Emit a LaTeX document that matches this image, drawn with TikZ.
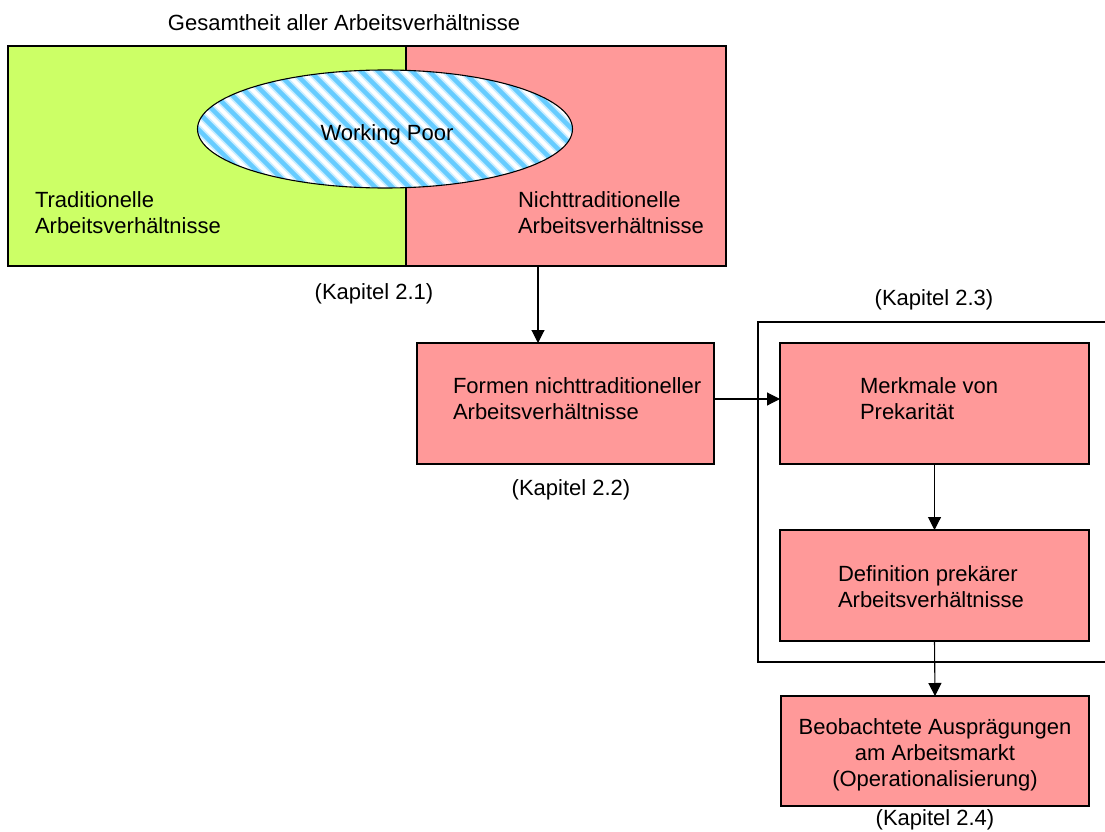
\documentclass[tikz,border=0pt]{standalone}
\usepackage{fontspec}
\setmainfont{Liberation Sans}
\usetikzlibrary{arrows.meta,shapes.geometric}
\definecolor{grn}{HTML}{CCFF66}
\definecolor{pnk}{HTML}{FF9999}
\definecolor{strp}{HTML}{66CCFF}
\newcommand{\ml}[2][l]{\begin{tabular}[t]{@{}#1@{}}#2\end{tabular}}
\begin{document}
\begin{tikzpicture}[x=1pt,y=-1pt,
  every node/.style={inner sep=0pt, outer sep=0pt, font=\fontsize{22}{26}\selectfont},
  box/.style={draw=black, line width=1.1pt, anchor=north west, rectangle},
  pinkbox/.style={box, fill=pnk},
  lbl/.style={anchor=base},
  lblw/.style={anchor=base west},
  arr/.style={draw=black, line width=1.1pt, -{Triangle[length=13pt,width=13pt]}},
  stripes/.style={path picture={
      \foreach \i in {-28,...,28}{
        \draw[strp!35, line width=8pt] ([xshift=\i*17pt-90pt, yshift=90pt]path picture bounding box.center) -- ++(180pt,-180pt);
        \draw[strp, line width=4.5pt] ([xshift=\i*17pt-90pt, yshift=90pt]path picture bounding box.center) -- ++(180pt,-180pt);
      }}}]
\useasboundingbox (0,0) rectangle (1105,832);
\fill[white] (0,0) rectangle (1105,832);

% top region
\node[box, fill=grn, minimum width=398, minimum height=220] (trad) at (8,46) {};
\node[pinkbox, minimum width=320, minimum height=220] (nicht) at (406,46) {};
\node[draw=black, line width=1.1pt, ellipse, fill=white, stripes, minimum width=375, minimum height=118] (wp) at (385,129) {};

\node[lbl] (titel) at (344,30.5) {Gesamtheit aller Arbeitsverhältnisse};
\node[lbl] (wpt) at (387,140.5) {Working Poor};
\node[lblw] (tradt) at (35,207) {\ml{Traditionelle\\Arbeitsverhältnisse}};
\node[lblw] (nichtt) at (518,207) {\ml{Nichttraditionelle\\Arbeitsverhältnisse}};
\node[lbl] (k21) at (374,299) {(Kapitel 2.1)};

% Formen
\node[pinkbox, minimum width=297, minimum height=121] (formen) at (417,343) {};
\node[lblw] (formt) at (453,393) {\ml{Formen nichttraditioneller\\Arbeitsverhältnisse}};
\node[lbl] (k22) at (571,495) {(Kapitel 2.2)};

% Kapitel 2.3 frame
\node[box, minimum width=360, minimum height=340] (frame) at (758,322) {};
\node[lbl] (k23) at (934,305) {(Kapitel 2.3)};

\node[pinkbox, minimum width=309, minimum height=121] (merk) at (780,343) {};
\node[lblw] (merkt) at (860,393) {\ml{Merkmale von\\Prekarität}};

\node[pinkbox, minimum width=309, minimum height=111] (def) at (780,530) {};
\node[lblw] (deft) at (838,581) {\ml{Definition prekärer\\Arbeitsverhältnisse}};

\node[pinkbox, minimum width=308, minimum height=110] (beob) at (781,696) {};
\node[lbl] (beobt) at (935,734) {\ml[c]{Beobachtete Ausprägungen\\am Arbeitsmarkt\\(Operationalisierung)}};
\node[lbl] (k24) at (935,825) {(Kapitel 2.4)};

% connectors
\coordinate (ax) at (538,0);
\coordinate (ay) at (0,399);
\draw[arr] (nicht.south -| ax) -- (formen.north -| ax);
\draw[arr] (formen.east |- ay) -- (merk.west |- ay);
\draw[arr] (merk.south) -- (def.north);
\draw[arr] (def.south) -- (beob.north);
\end{tikzpicture}
\end{document}
